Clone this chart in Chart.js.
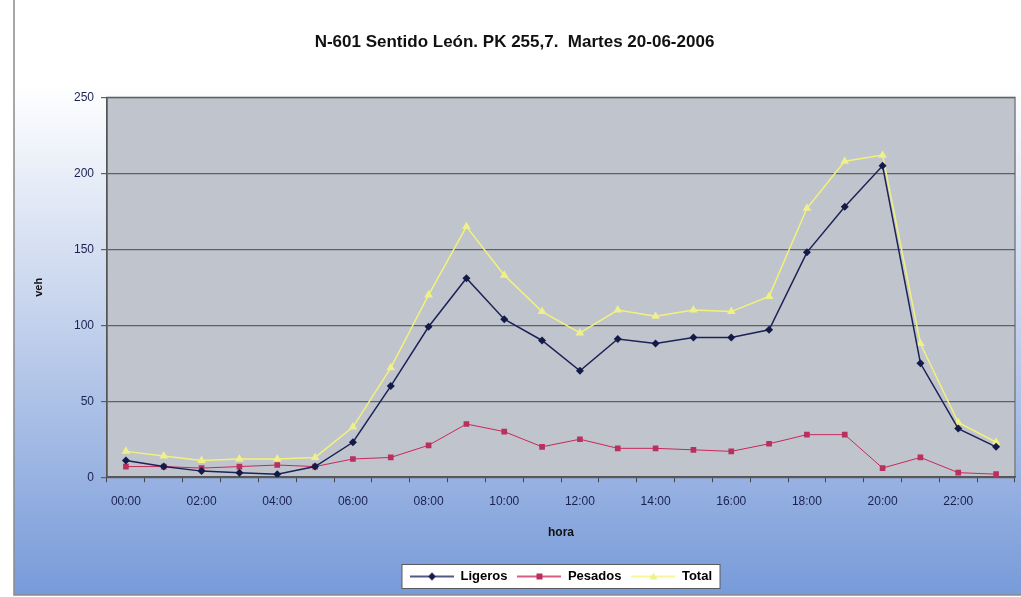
<!DOCTYPE html>
<html>
<head>
<meta charset="utf-8">
<script src="https://cdn.jsdelivr.net/npm/chart.js@4/dist/chart.umd.min.js"></script>
<style>
  html, body { margin: 0; padding: 0; background: #fff; }
  #wrap { width: 1021px; height: 597px; }
</style>
</head>
<body>
<div id="wrap"><canvas id="lineChart" width="1021" height="597"></canvas></div>
<script>
// horas del día
const horas = ["00:00","01:00","02:00","03:00","04:00","05:00","06:00","07:00","08:00","09:00","10:00","11:00",
               "12:00","13:00","14:00","15:00","16:00","17:00","18:00","19:00","20:00","21:00","22:00","23:00"];

// vehículos por hora
const ligeros = [11, 7, 4, 3, 2, 7, 23, 60, 99, 131, 104, 90, 70, 91, 88, 92, 92, 97, 148, 178, 205, 75, 32, 20];
const pesados = [7, 7, 6, 7, 8, 7, 12, 13, 21, 35, 30, 20, 25, 19, 19, 18, 17, 22, 28, 28, 6, 13, 3, 2];
const total   = [17, 14, 11, 12, 12, 13, 33, 72, 120, 165, 133, 109, 95, 110, 106, 110, 109, 119, 177, 208, 212, 88, 36, 23];

const yTicks = [0, 50, 100, 150, 200, 250];

const fuente = "'Liberation Sans', Arial, sans-serif";

// icono de leyenda: linea con marcador en medio
function iconoLeyenda(color, marca, relleno) {
  const c = document.createElement('canvas');
  c.width = 44; c.height = 10;
  const g = c.getContext('2d');
  g.strokeStyle = color;
  g.lineWidth = 1.5;
  g.beginPath(); g.moveTo(0, 5); g.lineTo(44, 5); g.stroke();
  g.fillStyle = relleno;
  g.beginPath();
  if (marca === 'diamond') {
    g.moveTo(22, 1); g.lineTo(26, 5); g.lineTo(22, 9); g.lineTo(18, 5);
  } else if (marca === 'square') {
    g.rect(19, 2, 6, 6);
  } else {
    g.moveTo(22, 1); g.lineTo(26, 8); g.lineTo(18, 8);
  }
  g.closePath(); g.fill();
  return c;
}

const iconos = [
  iconoLeyenda('#1c2358', 'diamond', '#141a48'),
  iconoLeyenda('#c8285c', 'square', '#b8305e'),
  iconoLeyenda('#f2f27a', 'triangle', '#eef08a')
];

// fondo degradado, area gris y caja de la leyenda
const fondo = {
  id: 'fondo',
  afterLayout(chart) {
    // leyenda centrada bajo el area de trazado
    const a = chart.chartArea;
    const l = chart.legend;
    const dx = (a.left + a.right) / 2 - (l.left + l.right) / 2;
    l.left += dx;
    l.right += dx;
  },
  beforeDraw(chart) {
    const ctx = chart.ctx;
    const a = chart.chartArea;
    ctx.save();
    const grad = ctx.createLinearGradient(0, 0, 0, 597);
    grad.addColorStop(0, '#ffffff');
    grad.addColorStop(0.14, '#ffffff');
    grad.addColorStop(0.5, '#c9d6ee');
    grad.addColorStop(1, '#779ad9');
    ctx.fillStyle = grad;
    ctx.fillRect(14, 0, 1007, 595);
    ctx.strokeStyle = '#8a8a8a';
    ctx.lineWidth = 1.5;
    ctx.beginPath();
    ctx.moveTo(14, 0); ctx.lineTo(14, 595); ctx.lineTo(1021, 595);
    ctx.stroke();

    ctx.fillStyle = '#c0c4cc';
    ctx.fillRect(a.left, a.top, a.right - a.left, a.bottom - a.top);
    ctx.strokeStyle = '#7c7f86';
    ctx.lineWidth = 1.5;
    ctx.strokeRect(a.left, a.top, a.right - a.left, a.bottom - a.top);

    const cajas = chart.legend.legendHitBoxes;
    if (cajas && cajas.length) {
      const x0 = cajas[0].left - 8;
      const x1 = cajas[cajas.length - 1].left + cajas[cajas.length - 1].width + 8;
      const yc = cajas[0].top + cajas[0].height / 2;
      ctx.fillStyle = '#ffffff';
      ctx.fillRect(x0, yc - 12, x1 - x0, 24);
      ctx.strokeStyle = '#5a5a5a';
      ctx.lineWidth = 1;
      ctx.strokeRect(x0, yc - 12, x1 - x0, 24);
    }
    ctx.restore();
  }
};

new Chart(document.getElementById('lineChart'), {
  type: 'line',
  data: {
    labels: horas,
    datasets: [{
      label: "Ligeros",
      data: ligeros,
      borderColor: "#1c2358",
      backgroundColor: "#141a48",
      borderWidth: 1.5,
      pointStyle: 'rectRot',
      pointRadius: 4,
      pointBorderWidth: 0,
      tension: 0
    },
    {
      label: "Pesados",
      data: pesados,
      borderColor: "#c8285c",
      backgroundColor: "#b8305e",
      borderWidth: 1,
      pointStyle: 'rect',
      pointRadius: 4,
      pointBorderWidth: 0,
      tension: 0
    },
    {
      label: "Total",
      data: total,
      borderColor: "#f2f27a",
      backgroundColor: "#eef08a",
      borderWidth: 1.5,
      pointStyle: 'triangle',
      pointRadius: 5,
      pointBorderWidth: 0,
      tension: 0
    }]
  },
  options: {
    responsive: false,
    animation: false,
    layout: { padding: { left: 14, right: 6, top: 0, bottom: 4 } },
    plugins: {
      title: {
        display: true,
        text: "N-601 Sentido León. PK 255,7.  Martes 20-06-2006",
        color: '#111111',
        font: { family: fuente, size: 17, weight: 'bold' },
        padding: { top: 32, bottom: 45 }
      },
      legend: {
        position: 'bottom',
        labels: {
          color: '#111111',
          font: { family: fuente, size: 13, weight: 'bold' },
          usePointStyle: true,
          pointStyleWidth: 44,
          padding: 10,
          generateLabels: (chart) => chart.data.datasets.map((ds, i) => ({
            text: ds.label,
            pointStyle: iconos[i],
            fillStyle: 'transparent',
            strokeStyle: 'transparent',
            lineWidth: 0,
            datasetIndex: i,
            hidden: false
          }))
        }
      },
      tooltip: { enabled: false }
    },
    scales: {
      x: {
        offset: true,
        grid: {
          offset: true,
          drawOnChartArea: false,
          drawTicks: true,
          tickLength: 5,
          color: '#444444'
        },
        border: { color: '#555555', width: 1.5 },
        ticks: {
          autoSkip: false,
          maxRotation: 0,
          color: '#1a2050',
          font: { family: fuente, size: 12 },
          padding: 12,
          callback: function (v, i) { return i % 2 === 0 ? horas[i] : ''; }
        },
        title: {
          display: true,
          text: 'hora',
          color: '#111111',
          font: { family: fuente, size: 12, weight: 'bold' },
          padding: { top: 5, bottom: 20 }
        }
      },
      y: {
        min: 0,
        max: 250,
        afterBuildTicks: (s) => { s.ticks = yTicks.map(v => ({ value: v })); },
        afterFit: (s) => { s.width = 93; },
        grid: {
          color: '#5e6066',
          lineWidth: 1.2,
          tickLength: 6
        },
        border: { color: '#555555', width: 1.5 },
        ticks: {
          color: '#1a2050',
          font: { family: fuente, size: 12 },
          padding: 7
        },
        title: {
          display: true,
          text: 'veh',
          color: '#111111',
          font: { family: fuente, size: 11, weight: 'bold' },
          padding: { top: 18, bottom: 0 }
        }
      }
    }
  },
  plugins: [fondo]
});
</script>
</body>
</html>
